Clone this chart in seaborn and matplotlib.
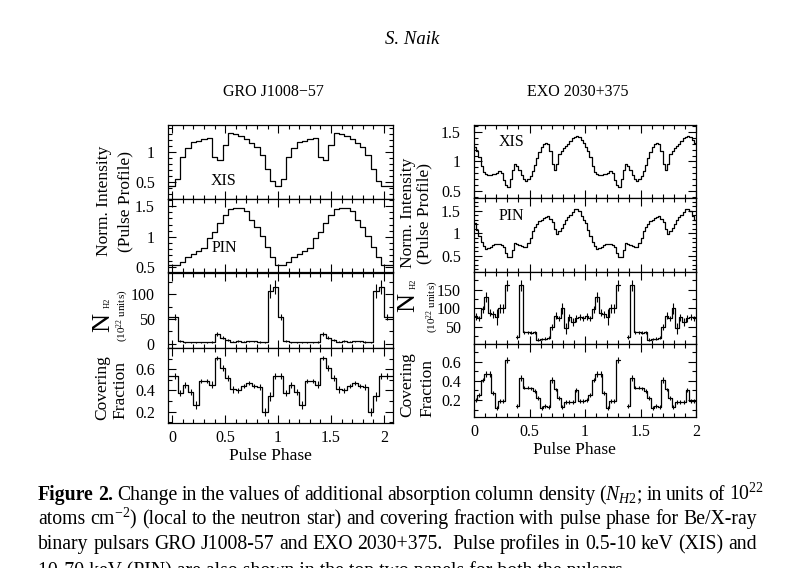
import numpy as np
import pandas as pd
import matplotlib
matplotlib.use("Agg")
import matplotlib.pyplot as plt
from matplotlib.ticker import MultipleLocator, FixedLocator, FuncFormatter
import seaborn as sns

# ---------------- GRO J1008-57 : 20 phase bins per cycle ----------------
gro_xis_cycle = [0.42, 0.54, 0.91, 1.06, 1.16, 1.19, 1.22, 1.23, 0.92, 0.86,
                 1.12, 1.31, 1.30, 1.27, 1.22, 1.15, 1.08, 0.94, 0.72, 0.51]
gro_pin_cycle = [0.53, 0.54, 0.58, 0.66, 0.72, 0.77, 0.81, 0.97, 1.08, 1.22,
                 1.35, 1.45, 1.48, 1.47, 1.43, 1.28, 1.16, 1.01, 0.83, 0.66]
gro_nh_cycle = [55, 5, 3, 3, 3, 3, 3, 3, 19, 12,
                8, 4, 5, 4, 5, 5, 4, 3, 107, 114]
gro_nh_err_cycle = [6, 2, 1, 1, 1, 1, 1, 2, 4, 3,
                    2, 1, 2, 1, 1, 1, 2, 1, 14, 14]
gro_cf_cycle = [0.534, 0.376, 0.45, 0.386, 0.263, 0.487, 0.487, 0.455, 0.706, 0.612,
                0.52, 0.41, 0.40, 0.44, 0.47, 0.44, 0.43, 0.197, 0.345, 0.534]
gro_cf_err_cycle = [0.03, 0.03, 0.03, 0.03, 0.04, 0.02, 0.02, 0.03, 0.02, 0.03,
                    0.03, 0.03, 0.02, 0.02, 0.02, 0.02, 0.03, 0.04, 0.04, 0.03]

# ---------------- EXO 2030+375 ----------------
# pulse profiles: 50 bins per cycle
exo_xis_cycle = [1.25, 1.18, 1.08, 0.92, 0.82, 0.78, 0.77, 0.77, 0.78, 0.79,
                 0.80, 0.83, 0.81, 0.68, 0.60, 0.57, 0.70, 0.86, 0.96, 0.93,
                 0.85, 0.77, 0.70, 0.67, 0.70, 0.75, 0.83, 0.94, 1.05, 1.16,
                 1.24, 1.29, 1.32, 1.29, 1.18, 0.95, 0.85, 0.95, 1.12, 1.18,
                 1.22, 1.26, 1.30, 1.34, 1.39, 1.42, 1.43, 1.42, 1.37, 1.31]
exo_pin_cycle = [1.22, 1.08, 0.93, 0.80, 0.72, 0.66, 0.67, 0.70, 0.73, 0.75,
                 0.76, 0.76, 0.74, 0.69, 0.57, 0.48, 0.47, 0.62, 0.79, 0.76,
                 0.74, 0.72, 0.70, 0.70, 0.78, 0.90, 1.04, 1.14, 1.21, 1.26,
                 1.30, 1.33, 1.36, 1.37, 1.31, 1.24, 1.10, 0.98, 1.04, 1.12,
                 1.20, 1.29, 1.36, 1.41, 1.47, 1.53, 1.54, 1.48, 1.38, 1.30]
# spectral parameters: 32 bins per cycle (nan = no fit)
nan = np.nan
exo_nh_cycle = [78, 72, 97, 130, 88, 83, 75, 100, 100, 162, nan, nan, 22, 162, 35, 34,
                33, 35, 15, 17, 17, 20, 48, 80, 72, 100, 45, 75, 62, 72, 75, 72]
exo_nh_err_cycle = [10, 8, 10, 14, 10, 10, 22, 12, 12, 15, nan, nan, 5, 15, 4, 4,
                    4, 4, 3, 3, 4, 4, 8, 10, 8, 15, 15, 10, 10, 10, 8, 8]
exo_cf_cycle = [0.20, 0.25, 0.41, 0.47, 0.47, 0.27, 0.12, 0.19, 0.19, 0.62, nan, nan,
                0.14, 0.43, 0.33, 0.33, 0.32, 0.29, 0.22, 0.12, 0.14, 0.13, 0.41, 0.31,
                0.22, 0.13, 0.18, 0.18, 0.18, 0.30, 0.19, 0.19]
exo_cf_err_cycle = [0.02, 0.02, 0.02, 0.03, 0.03, 0.02, 0.02, 0.02, 0.02, 0.03, nan, nan,
                    0.02, 0.03, 0.02, 0.02, 0.02, 0.02, 0.02, 0.02, 0.02, 0.02, 0.03, 0.02,
                    0.02, 0.02, 0.02, 0.02, 0.02, 0.02, 0.02, 0.02]

phase_ticks = [0, 0.5, 1, 1.5, 2]

# two pulse cycles are shown
gro_xis = gro_xis_cycle * 2 + gro_xis_cycle[:1]
gro_pin = gro_pin_cycle * 2 + gro_pin_cycle[:1]
gro_nh = gro_nh_cycle * 2 + gro_nh_cycle[:1]
gro_nh_err = gro_nh_err_cycle * 2 + gro_nh_err_cycle[:1]
gro_cf = gro_cf_cycle * 2 + gro_cf_cycle[:1]
gro_cf_err = gro_cf_err_cycle * 2 + gro_cf_err_cycle[:1]
exo_xis = exo_xis_cycle * 2
exo_pin = exo_pin_cycle * 2
exo_nh = exo_nh_cycle * 2
exo_nh_err = exo_nh_err_cycle * 2
exo_cf = exo_cf_cycle * 2
exo_cf_err = exo_cf_err_cycle * 2

# ---------------- style ----------------
sns.set_theme(style="ticks")
plt.rcParams["font.family"] = ["Liberation Serif", "DejaVu Serif"]
plt.rcParams["mathtext.fontset"] = "custom"
plt.rcParams["mathtext.rm"] = "Liberation Serif"
plt.rcParams["mathtext.it"] = "Liberation Serif:italic"
plt.rcParams["mathtext.bf"] = "Liberation Serif:bold"
plt.rcParams["axes.edgecolor"] = "black"
plt.rcParams["xtick.color"] = "black"
plt.rcParams["ytick.color"] = "black"
plt.rcParams["text.color"] = "black"

W, H = 795, 568
fig = plt.figure(figsize=(W / 100, H / 100), dpi=100)
fig.patch.set_facecolor("white")


def rect(x0, x1, ytop, ybot):
    return [x0 / W, 1 - ybot / H, (x1 - x0) / W, (ybot - ytop) / H]


def px(x, y):
    return x / W, 1 - y / H


GRO_XLIM = (-0.04, 2.085)
EXO_XLIM = (0.0, 2.0)

# bin geometry
gro_prof_centres = np.arange(len(gro_xis)) * 0.05
gro_prof_edges = np.concatenate([[GRO_XLIM[0]], gro_prof_centres[1:] - 0.025, [GRO_XLIM[1]]])
gro_spec_centres = 0.025 + np.arange(len(gro_nh)) * 0.05
gro_spec_edges = np.concatenate([[GRO_XLIM[0]], gro_spec_centres[1:] - 0.025, [GRO_XLIM[1]]])
exo_prof_edges = np.linspace(0, 2, len(exo_xis) + 1)
exo_spec_edges = np.linspace(0, 2, len(exo_nh) + 1)
exo_spec_centres = 0.5 * (exo_spec_edges[1:] + exo_spec_edges[:-1])


def step_frame(edges, values):
    values = np.asarray(values, dtype=float)
    rows = []
    seg, i, n = 0, 0, len(values)
    while i < n:
        if np.isnan(values[i]):
            i += 1
            continue
        j = i
        while j + 1 < n and not np.isnan(values[j + 1]):
            j += 1
        xs = list(edges[i:j + 2])
        ys = list(values[i:j + 1]) + [values[j]]
        rows += [(x, y, seg) for x, y in zip(xs, ys)]
        seg += 1
        i = j + 1
    return pd.DataFrame(rows, columns=["phase", "value", "seg"])


def draw_steps(ax, edges, values):
    df = step_frame(edges, values)
    sns.lineplot(data=df, x="phase", y="value", units="seg", estimator=None,
                 drawstyle="steps-post", color="black", linewidth=0.9, ax=ax)
    ax.set_xlabel("")
    ax.set_ylabel("")


def draw_err(ax, centres, values, errs):
    v = np.asarray(values, float)
    e = np.asarray(errs, float)
    c = np.asarray(centres, float)
    ok = ~np.isnan(v)
    ax.vlines(c[ok], v[ok] - e[ok], v[ok] + e[ok], color="black", lw=0.8)


fmt = FuncFormatter(lambda v, p: "%g" % v)


def style_axes(ax, xlim, ylim, ymajor, yminor, bottom):
    ax.set_xlim(*xlim)
    ax.set_ylim(*ylim)
    ax.xaxis.set_major_locator(FixedLocator(phase_ticks))
    ax.xaxis.set_minor_locator(MultipleLocator(0.1))
    ax.yaxis.set_major_locator(FixedLocator(ymajor))
    ax.yaxis.set_minor_locator(MultipleLocator(yminor))
    ax.xaxis.set_major_formatter(fmt)
    ax.yaxis.set_major_formatter(fmt)
    ax.tick_params(which="both", direction="in", top=True, right=True,
                   labelsize=11.5, width=0.8, labelbottom=bottom)
    ax.tick_params(which="major", length=5.5)
    ax.tick_params(which="minor", length=3)
    ax.tick_params(axis="y", which="both", pad=9.5)
    ax.tick_params(axis="x", which="both", pad=5.5)
    for s in ax.spines.values():
        s.set_linewidth(0.9)
        s.set_visible(True)
    ax.set_facecolor("white")
    ax.grid(False)


# ---------------- left column : GRO J1008-57 ----------------
LX0, LX1 = 168, 393
ax = fig.add_axes(rect(LX0, LX1, 125, 199))
draw_steps(ax, gro_prof_edges, gro_xis)
style_axes(ax, GRO_XLIM, (0.21, 1.45), [0.5, 1], 0.1, False)

ax = fig.add_axes(rect(LX0, LX1, 199, 272.5))
draw_steps(ax, gro_prof_edges, gro_pin)
style_axes(ax, GRO_XLIM, (0.41, 1.62), [0.5, 1, 1.5], 0.1, False)

ax = fig.add_axes(rect(LX0, LX1, 272.5, 348))
draw_steps(ax, gro_spec_edges, gro_nh)
draw_err(ax, gro_spec_centres, gro_nh, gro_nh_err)
style_axes(ax, GRO_XLIM, (-8.6, 144), [0, 50, 100], 25, False)

ax = fig.add_axes(rect(LX0, LX1, 348, 422.7))
draw_steps(ax, gro_spec_edges, gro_cf)
draw_err(ax, gro_spec_centres, gro_cf, gro_cf_err)
style_axes(ax, GRO_XLIM, (0.096, 0.80), [0.2, 0.4, 0.6], 0.1, True)

# ---------------- right column : EXO 2030+375 ----------------
RX0, RX1 = 474, 696
ax = fig.add_axes(rect(RX0, RX1, 124.5, 197.5))
draw_steps(ax, exo_prof_edges, exo_xis)
style_axes(ax, EXO_XLIM, (0.39, 1.625), [0.5, 1, 1.5], 0.1, False)

ax = fig.add_axes(rect(RX0, RX1, 197.5, 272))
draw_steps(ax, exo_prof_edges, exo_pin)
style_axes(ax, EXO_XLIM, (0.14, 1.79), [0.5, 1, 1.5], 0.1, False)

ax = fig.add_axes(rect(RX0, RX1, 272, 344.3))
draw_steps(ax, exo_spec_edges, exo_nh)
draw_err(ax, exo_spec_centres, exo_nh, exo_nh_err)
style_axes(ax, EXO_XLIM, (2, 198), [50, 100, 150], 25, False)

ax = fig.add_axes(rect(RX0, RX1, 344.3, 416.7))
draw_steps(ax, exo_spec_edges, exo_cf)
draw_err(ax, exo_spec_centres, exo_cf, exo_cf_err)
style_axes(ax, EXO_XLIM, (0.026, 0.78), [0.2, 0.4, 0.6], 0.1, True)

# ---------------- texts ----------------
def t(x, y, s, size, **kw):
    kw.setdefault("ha", "center")
    kw.setdefault("va", "center")
    return fig.text(*px(x, y), s, fontsize=size, **kw)

t(412, 39, "S. Naik", 13.5, style="italic")
t(273, 92, "GRO J1008\u221257", 11.5)
t(578, 92, "EXO 2030+375", 11.5)

t(224, 181, "XIS", 11.5)
t(224, 248, "PIN", 11.5)
t(512, 142, "XIS", 11.5)
t(511, 216, "PIN", 11.5)

# left y labels
t(104, 201, "Norm. Intensity", 12.5, rotation=90)
t(125, 201, "(Pulse Profile)", 12.5, rotation=90)
t(103, 322, "N", 19, rotation=90)
t(108, 303, "H2", 6, rotation=90)
t(123, 315.5, "(10$^{22}$ units)", 8, rotation=90)
t(102, 388, "Covering", 12.5, rotation=90)
t(120, 390, "Fraction", 12.5, rotation=90)

# right y labels
t(408, 213, "Norm. Intensity", 12.5, rotation=90)
t(424, 213, "(Pulse Profile)", 12.5, rotation=90)
t(408.5, 302, "N", 19, rotation=90)
t(413.5, 284, "H2", 6, rotation=90)
t(433, 307, "(10$^{22}$ units)", 8, rotation=90)
t(407, 385, "Covering", 12.5, rotation=90)
t(427, 388, "Fraction", 12.5, rotation=90)

t(270, 456, "Pulse Phase", 12.5)
t(574, 450, "Pulse Phase", 12.5)

# ---------------- caption (justified) ----------------
renderer = fig.canvas.get_renderer()
line3_text = "binary pulsars GRO J1008-57 and EXO 2030+375.  Pulse profiles in 0.5-10 keV (XIS) and"
probe = fig.text(0, 0, line3_text, fontsize=12)
probe_w = probe.get_window_extent(renderer).width
probe.remove()
CAP = 12 * (757 - 38) / probe_w


def justified(words, x0, x1, y):
    objs, widths = [], []
    for w in words:
        word, weight = (w if isinstance(w, tuple) else (w, "normal"))
        o = fig.text(0, 0, word, fontsize=CAP, fontweight=weight, ha="left", va="baseline")
        widths.append(o.get_window_extent(renderer).width)
        objs.append(o)
    gap = (x1 - x0 - sum(widths)) / (len(words) - 1)
    x = x0
    for o, w in zip(objs, widths):
        o.set_position(px(x, y))
        x += w + gap


line1 = [("Figure", "bold"), ("2.", "bold"), "Change", "in", "the", "values", "of",
         "additional", "absorption", "column", "density", "($N_{H2}$;", "in", "units",
         "of", "10$^{22}$"]
line2 = ["atoms", "cm$^{-2}$)", "(local", "to", "the", "neutron", "star)", "and", "covering",
         "fraction", "with", "pulse", "phase", "for", "Be/X-ray"]
line3 = ["binary", "pulsars", "GRO", "J1008-57", "and", "EXO", "2030+375.", "", "Pulse",
         "profiles", "in", "0.5-10", "keV", "(XIS)", "and"]
justified(line1, 38, 764, 500)
justified(line2, 38, 757, 524)
justified(line3, 38, 757, 549)
fig.text(*px(38, 576), "10-70 keV (PIN) are also shown in the top two panels for both the pulsars.",
         fontsize=CAP, ha="left", va="baseline")

fig.savefig("out.png", dpi=100, facecolor="white")
